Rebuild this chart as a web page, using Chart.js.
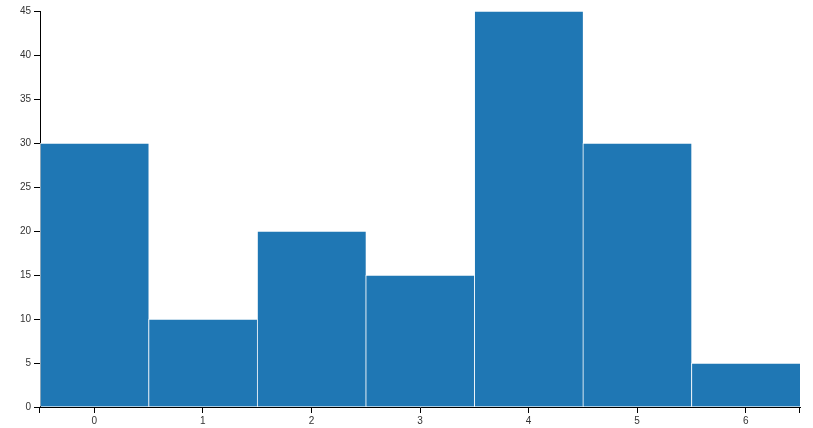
<!DOCTYPE html>
<html>
<head>
<meta charset="utf-8">
<script src="https://cdn.jsdelivr.net/npm/chart.js@4/dist/chart.umd.min.js"></script>
<style>
  html, body { margin: 0; padding: 0; background: #fff; }
  #wrap { width: 813px; height: 428px; position: relative; }
</style>
</head>
<body>
<div id="wrap"><canvas id="chart"></canvas></div>
<script>
const categories = ["0", "1", "2", "3", "4", "5", "6"]
const values = [30, 10, 20, 15, 45, 30, 5]
const yTicks = [0, 5, 10, 15, 20, 25, 30, 35, 40, 45]

// end ticks of the x axis, like a d3 outer tick
const outerTicks = {
  id: "outerTicks",
  afterDraw(chart) {
    const { ctx, chartArea } = chart
    ctx.save()
    ctx.strokeStyle = "#000"
    ctx.lineWidth = 1
    ctx.beginPath()
    ctx.moveTo(chartArea.left - 0.5, chartArea.bottom)
    ctx.lineTo(chartArea.left - 0.5, chartArea.bottom + 6)
    ctx.moveTo(chartArea.right - 0.5, chartArea.bottom)
    ctx.lineTo(chartArea.right - 0.5, chartArea.bottom + 6)
    ctx.stroke()
    ctx.restore()
  }
}

new Chart(document.getElementById("chart"), {
  type: "bar",
  data: {
    labels: categories,
    datasets: [{
      data: values,
      backgroundColor: "#1f77b4",
      borderColor: "rgba(255,255,255,0.75)",
      borderWidth: { top: 1, left: 1, right: 0, bottom: 0 },
      borderSkipped: false,
      categoryPercentage: 1,
      barPercentage: 1
    }]
  },
  options: {
    responsive: true,
    maintainAspectRatio: false,
    animation: false,
    layout: { padding: { top: 11, right: 13, left: 0, bottom: 0 } },
    plugins: {
      legend: { display: false },
      tooltip: { enabled: false }
    },
    scales: {
      x: {
        grid: {
          display: true,
          drawOnChartArea: false,
          drawTicks: true,
          tickLength: 6,
          offset: false,
          color: "#000"
        },
        border: { display: true, color: "#000", width: 1 },
        ticks: {
          color: "#333",
          font: { family: "Arial, 'Liberation Sans', sans-serif", size: 10 },
          padding: 2,
          maxRotation: 0
        },
        afterFit(scale) { scale.height = 21 }
      },
      y: {
        min: 0,
        max: 45,
        afterBuildTicks(scale) {
          scale.ticks = yTicks.map(v => ({ value: v }))
        },
        grid: {
          display: true,
          drawOnChartArea: false,
          drawTicks: true,
          tickLength: 6,
          color: "#000"
        },
        border: { display: true, color: "#000", width: 1 },
        ticks: {
          color: "#333",
          font: { family: "Arial, 'Liberation Sans', sans-serif", size: 10 },
          padding: 3
        },
        afterFit(scale) { scale.width = 40 }
      }
    }
  },
  plugins: [outerTicks]
})
</script>
</body>
</html>
